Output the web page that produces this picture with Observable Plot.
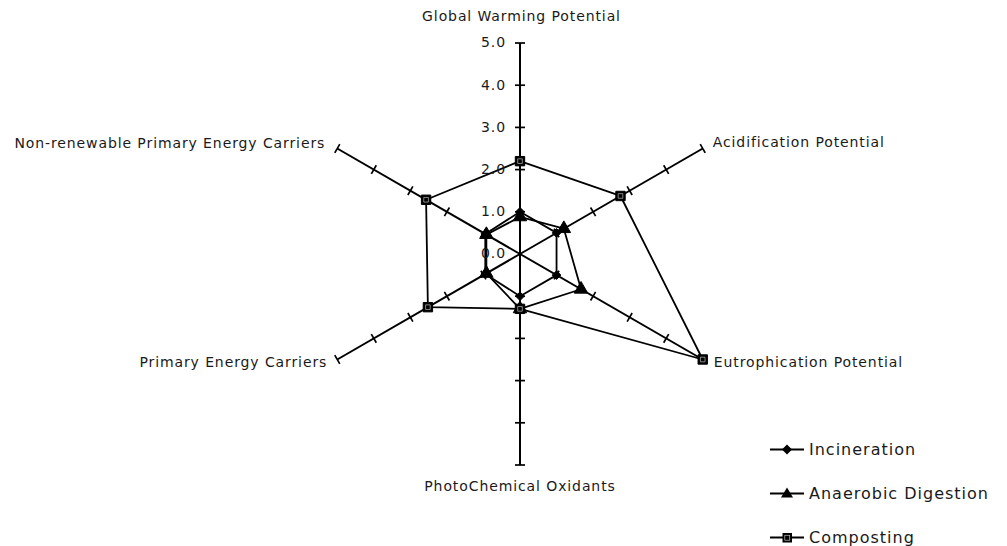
<!DOCTYPE html>
<html><head><meta charset="utf-8">
<script src="https://cdn.jsdelivr.net/npm/d3@7"></script>
<script src="https://cdn.jsdelivr.net/npm/@observablehq/plot@0.6"></script>
<style>
body{margin:0;background:#fff;}
#wrap{position:relative;width:1007px;height:546px;font-family:"DejaVu Sans",sans-serif;color:#1a1a1a;}
#wrap svg text{letter-spacing:0.9px;}
.legend{position:absolute;left:0;top:0;width:1007px;height:546px;pointer-events:none;}
.legend .item{position:absolute;display:flex;align-items:center;font-size:16px;letter-spacing:1px;height:20px;}
.legend svg{margin-right:5px;}
</style></head><body><div id="wrap"></div>
<script>
// ---- data ----
const categories = ["Global Warming Potential","Acidification Potential","Eutrophication Potential","PhotoChemical Oxidants","Primary Energy Carriers","Non-renewable Primary Energy Carriers"];
const seriesNames = ["Incineration","Anaerobic Digestion","Composting"];
const incineration = [1.0, 1.0, 1.0, 1.0, 0.95, 0.95];
const anaerobic    = [0.88, 1.2, 1.67, 1.3, 0.92, 0.92];
const composting   = [2.2, 2.75, 5.0, 1.3, 2.52, 2.57];
const tickValues = [0, 1, 2, 3, 4, 5];
const tickLabels = ["0.0","1.0","2.0","3.0","4.0","5.0"];
const rMax = 5;

// ---- layout ----
const W = 1007, H = 546, cx = 519.5, cy = 253.5, k = 211 / rMax;
const n = categories.length;
const ang = i => (90 - i * 360 / n) * Math.PI / 180;
const pt = (i, v) => [v * Math.cos(ang(i)), v * Math.sin(ang(i))];

const seriesValues = [incineration, anaerobic, composting];
const symbols = ["diamond2", "triangle", "square"];
const sizes = [3.9, 5.0, 5.3];
const points = [];
seriesValues.forEach((vals, s) => vals.forEach((v, i) => {
  const [x, y] = pt(i, v);
  points.push({series: seriesNames[s], s, i, x, y});
}));

const axes = categories.map((c, i) => { const [x2, y2] = pt(i, rMax); return {x1: 0, y1: 0, x2, y2}; });
const ticks = [];
categories.forEach((c, i) => tickValues.filter(v => v > 0).forEach(v => {
  const [x, y] = pt(i, v); const a = ang(i); const h = 5 / k;
  ticks.push({x1: x - h * Math.sin(a), y1: y + h * Math.cos(a), x2: x + h * Math.sin(a), y2: y - h * Math.cos(a)});
}));
// label offsets in px (layout)
const labelOff = [[1.5, -26, "middle"], [10, -6, "start"], [11, 3, "start"], [0, 22, "middle"], [-10, 3, "end"], [-12, -5, "end"]];
const labels = categories.map((c, i) => {
  const [x, y] = pt(i, rMax); const [dx, dy, anchor] = labelOff[i];
  return {text: c, x: x + dx / k, y: y - dy / k, anchor};
});
const tickText = tickValues.map((v, j) => ({x: 0, y: v, text: tickLabels[j]}));

const plot = Plot.plot({
  width: W, height: H, margin: 0,
  style: {fontFamily: "DejaVu Sans", fontSize: "14px", color: "#1a1a1a", background: "transparent"},
  x: {domain: [-cx / k, (W - cx) / k], axis: null},
  y: {domain: [-(H - cy) / k, cy / k], axis: null},
  marks: [
    Plot.link(axes, {x1: "x1", y1: "y1", x2: "x2", y2: "y2", stroke: "#000", strokeWidth: 2}),
    Plot.link(ticks, {x1: "x1", y1: "y1", x2: "x2", y2: "y2", stroke: "#000", strokeWidth: 1.7}),
    Plot.line(points, {x: "x", y: "y", z: "series", curve: "linear-closed", stroke: "#000", strokeWidth: 1.8}),
    ...symbols.map((sym, s) => Plot.dot(points.filter(d => d.s === s), {x: "x", y: "y", symbol: () => sym, r: sizes[s], fill: "#000", stroke: "#000", strokeWidth: 1})),
    Plot.dot(points.filter(d => d.s === 2), {x: "x", y: "y", symbol: () => "square", r: 2.6, fill: "#000", stroke: "#bbb", strokeWidth: 0.7}),
    Plot.text(tickText, {x: "x", y: "y", text: "text", textAnchor: "end", dx: -14, fontSize: 14, fill: "#1a1a1a"}),
    ...["start", "middle", "end"].map(a => Plot.text(labels.filter(d => d.anchor === a), {x: "x", y: "y", text: "text", textAnchor: a, fontSize: 14, fill: "#1a1a1a"}))
  ]
});
const wrap = document.getElementById("wrap");
wrap.appendChild(plot);

// ---- legend ----
const leg = document.createElement("div"); leg.className = "legend";
const symPath = s => {
  if (s === 0) return '<path d="M17,5.5 L22,10.5 L17,15.5 L12,10.5Z" fill="#000"/>';
  if (s === 1) return '<path d="M17,4.5 L23,14.5 L11,14.5Z" fill="#000"/>';
  return '<rect x="12.5" y="6" width="9.5" height="9.5" fill="#000"/><rect x="14.8" y="8.3" width="4.9" height="4.9" fill="#000" stroke="#bbb" stroke-width="0.7"/>';
};
const rowY = [449, 493, 537];
seriesNames.forEach((name, s) => {
  const it = document.createElement("div"); it.className = "item";
  it.style.left = "770px"; it.style.top = (rowY[s] - 10) + "px";
  it.innerHTML = `<svg width="34" height="20"><line x1="0" y1="10.5" x2="34" y2="10.5" stroke="#000" stroke-width="1.8"/>${symPath(s)}</svg><span>${name}</span>`;
  leg.appendChild(it);
});
wrap.appendChild(leg);
</script></body></html>
